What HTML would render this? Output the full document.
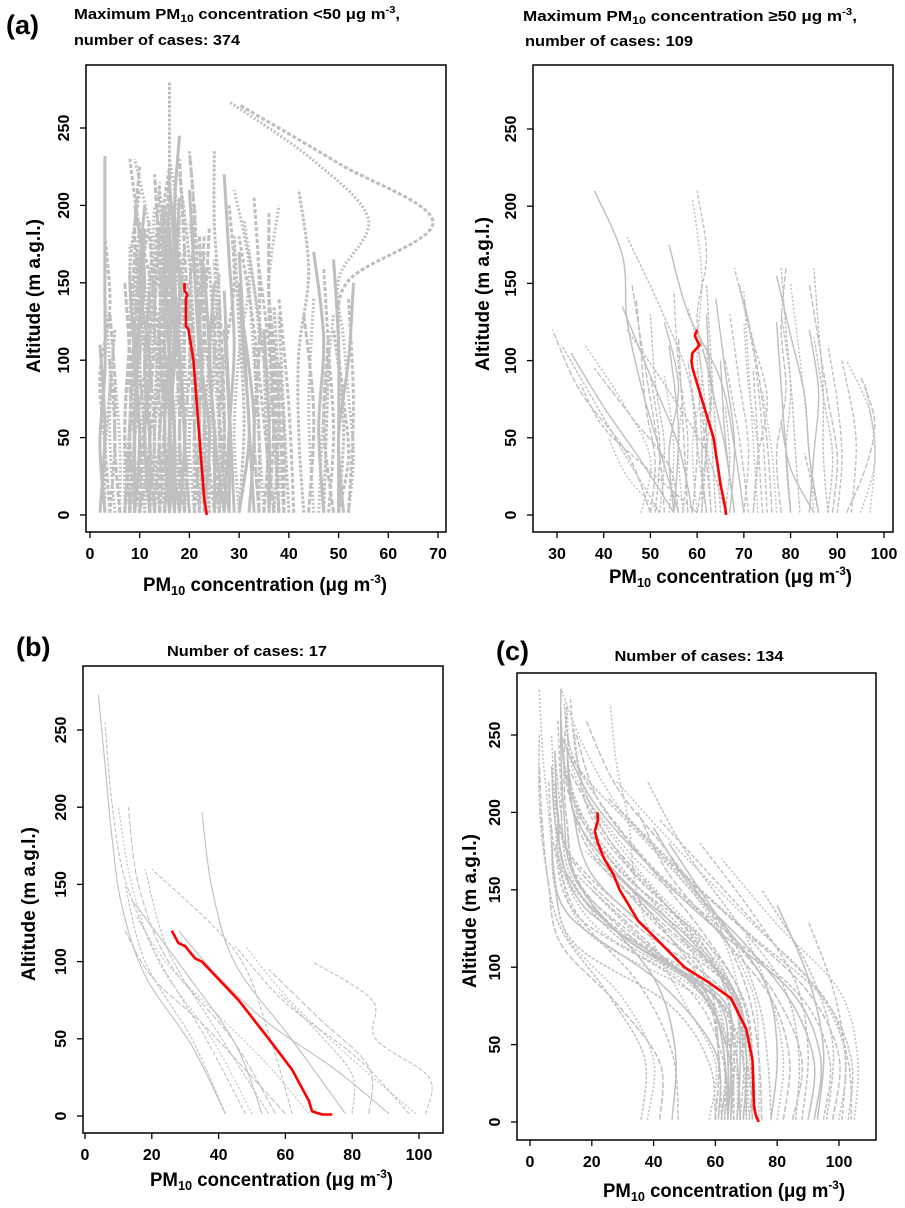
<!DOCTYPE html>
<html><head><meta charset="utf-8">
<style>
html,body{margin:0;padding:0;background:#fff;}
svg{display:block;font-family:"Liberation Sans",sans-serif;}
.t{font-weight:bold;fill:#000;}
</style></head>
<body>
<svg id="fig" width="905" height="1208" viewBox="0 0 905 1208" xmlns="http://www.w3.org/2000/svg">
<rect x="0" y="0" width="905" height="1208" fill="#fff"/>
<text class="t" x="6" y="34" font-size="27">(a)</text>
<text class="t" x="16" y="656" font-size="27">(b)</text>
<text class="t" x="496" y="660" font-size="27">(c)</text>
<text class="t" x="74" y="19" font-size="15" textLength="326" lengthAdjust="spacingAndGlyphs">Maximum PM<tspan font-size="11" dy="3">10</tspan><tspan dy="-3"> concentration &lt;50 μg m</tspan><tspan font-size="10" dy="-6">-3</tspan><tspan dy="6">,</tspan></text>
<text class="t" x="74" y="45" font-size="15" textLength="166" lengthAdjust="spacingAndGlyphs">number of cases: 374</text>
<text class="t" x="523" y="21" font-size="15" textLength="334" lengthAdjust="spacingAndGlyphs">Maximum PM<tspan font-size="11" dy="3">10</tspan><tspan dy="-3"> concentration  ≥50 μg m</tspan><tspan font-size="10" dy="-6">-3</tspan><tspan dy="6">,</tspan></text>
<text class="t" x="525" y="46" font-size="15" textLength="168" lengthAdjust="spacingAndGlyphs">number of cases: 109</text>
<text class="t" x="247" y="656" font-size="15" text-anchor="middle" textLength="160" lengthAdjust="spacingAndGlyphs">Number of cases: 17</text>
<text class="t" x="699" y="661" font-size="15" text-anchor="middle" textLength="169" lengthAdjust="spacingAndGlyphs">Number of cases: 134</text>
<g id="panels"></g>
</svg>
<script>
// profile format: [topAltitude, x at evenly spaced altitudes from 0 to top ...]
const profilesALeft = [
[232,3,2,3,3,3,3],[180,4,3,2,4,3],[140,5,4,4,3],[130,6,5,5,4],[120,3,3,4,5],[110,2,3,2],[100,4,5,4],[90,6,6,5],
[225,8,9,8,10,9,10],[210,7,8,9,8,10],[200,9,10,9,11,9],[190,10,9,11,10,12],[230,11,10,12,13,12,9],
[170,8,7,8,9],[160,12,11,10,11],[150,9,10,9,8],[215,12,13,12,13,14],[180,11,12,11,13],[140,10,11,12],
[120,7,8,9],[200,12,11,12,10,11],[225,10,12,11,13,14,16],[175,7,7,8,8],[165,9,8,9,10],
[190,8,8,9,9,10],[185,9,9,10,11],[170,10,10,9,10],[160,11,11,12,12],[150,7,8,8,7],[155,8,9,10,11],
[145,12,12,11,12],[135,9,9,10],[200,11,11,10,12,13],[180,13,12,13,12],
[280,16,16,15,16,16,16],[245,17,16,17,18,17,18],[235,20,19,20,20,21,20],[230,18,17,16,17,18,16],
[220,14,15,14,15,16],[210,15,14,16,15,14],[200,16,17,16,15,16],[190,13,14,13,14],[180,17,18,17,16],
[170,19,18,19,18],[160,14,13,15,14],[150,18,19,18,17],[230,13,12,14,13,10,8],[210,19,17,18,16,14],
[220,15,16,15,14,13],[200,20,19,18,17,15],[185,18,16,17,16],[165,16,15,16,15],[140,20,19,18],[125,14,15,14],
[195,13,13,14,15],[205,17,17,16,17,18],[175,15,16,17,16],[155,19,20,19,19],
[200,14,14,15,14,15],[190,15,15,14,16],[180,16,16,17,15],[170,17,17,16,17],[160,18,18,19,18],
[185,14,15,16,15],[175,19,19,18,19],[215,16,15,16,17,16],[195,18,18,17,18],
[235,21,20,21,20,21,20],[230,22,21,20,19,18],[220,24,22,21,20,18],[210,23,24,22,21,20],[200,25,23,22,21],
[190,22,21,22,20],[180,26,25,23,22],[170,24,23,24,22],[160,27,25,24,23],[150,21,22,21,20],[140,26,24,25],
[130,28,26,25],[235,25,27,26,26,25,25],[220,27,28,29,28,27],[200,28,26,27,29,28],[210,30,29,30,32,29],
[185,23,22,23,24],[165,26,27,26,25],[145,29,28,27],
[190,21,21,22,21],[175,22,22,23,22],[180,23,23,22,23],[160,24,24,25,24],[150,25,25,24,25],
[170,21,22,22,23],[155,26,26,25,26],[140,27,27,26],[130,22,23,22],[120,28,28,27],
[205,34,33,34,34,33],[200,37,36,37,36,38],[195,36,37,36,36],[180,30,31,30,29],[170,33,32,31,30],
[160,38,37,36,34],[150,35,34,33,32],[140,39,38,36],[130,40,39,38],[120,32,33,31],[180,37,35,33,30],
[190,39,37,34,31],[110,38,37],[100,36,35],[150,30,32,31,30],[140,41,40,38],[170,34,33,34,32],
[125,35,36,34],[135,37,38,37],[120,36,36,35],[110,34,34,33],[130,38,37,36],[100,39,39,38],
[210,43,42,42,44,42],[170,47,46,47,45],[160,48,49,48,47],[140,45,44,45],[130,44,45,43],[120,50,51,49],
[150,51,50,52,53],[140,52,53,52],[130,46,47,49],[115,49,47,48],[100,47,48],[165,50,50,50,49],
[265,50,52,51,50,52,69,50,30],[267,52,53,52,51,50,56,45,28]
];
const meanALeftAlt = [0,10,50,100,120,122,140,142,145,150];
const meanALeftX = [23.5,23,22,20.8,19.8,19.3,19.3,19.6,19.0,19.0];

const profilesARight = [
[210,56,52,48,45,44,38],[210,60,62,63,60,62,60],[205,63,62,60,61,59],[160,78,77,79,78,79],
[160,88,87,87,86,85],[155,86,84,83,80,77],[150,72,73,75,72,69],[150,85,83,80],
[120,50,45,35,29],[110,52,45,38,31],[105,55,48,40,33],[85,60,50,40,35],[50,52,45,41],
[140,50,51,49,48,47],[130,52,53,51,50],[125,55,54,56,53],[145,57,58,56,55],[135,60,59,61,58],
[120,62,61,63,60],[150,65,64,63,62],[140,67,68,66,64],[130,70,71,69,67],[125,72,73,71,70],
[115,58,57,56],[110,64,63,62],[100,68,66,65],[95,74,73,72],[90,54,55,53],[150,53,52,50,48,46],
[180,62,60,58,52,45],[175,70,68,65,58,54],[160,75,74,72,68],[145,73,72,71,70],[140,76,75,73,70],
[130,82,81,80,78],[120,84,85,86,84],[110,90,91,90,88],[100,95,98,97,92],[90,92,96,98,95],
[115,88,89,87,85],[125,80,79,78,77],[100,93,94,91],[85,97,98,96],[150,89,90,88,86,84],
[160,80,79,80,79,78],[60,85,80,78],[40,86,83],[110,48,50,44,36],[95,56,54,46,38],[120,66,62,54,45],
[135,59,56,50,44],[100,71,69,66],[80,77,76,74],[70,63,62,61],[115,61,62,60],[130,68,66,63,62],
[90,51,52,50],[80,57,56,57],[100,59,60,58],[70,66,67,66],[110,55,56,54],[95,61,61,60]
];
const meanARightAlt = [0,5,20,50,80,95,100,105,110,113,116,120];
const meanARightX = [66.2,66,65,63.5,60.5,59,58.8,59,60.5,60,59.5,60];

const profilesB = [
[273,42,32,18,11,8,6,4],[255,48,36,22,12,8,6],[200,50,38,22,14,10],[200,57,44,25,16,13],
[160,55,40,25,18],[197,78,62,45,38,35],[100,102,103,87,86,68],[110,99,80,62,48],
[95,85,85,70,55],[80,80,80,70,58],[120,91,75,55,40,28],[110,97,82,60,45],[130,67,55,40,25,15],
[120,60,48,35,20,12],[150,42,32,18,12],[140,53,45,30,14],[160,62,55,45,20]
];
const meanBAlt = [1,1,3,10,30,50,75,100,102,110,112,120];
const meanBX = [74,71,68,67,62,55,46,35,33,30,28,26];

const profilesC = [
[280,64,64,60,30,14,11,10,10],[260,66,65,58,25,12,10,9],[250,62,63,55,22,10,8,7],
[270,68,67,62,35,16,12,11,12],[240,70,69,60,28,13,10,8],[230,65,64,52,18,9,7],[220,63,62,50,16,8,6],
[200,67,66,55,20,10,9],[210,72,70,63,35,14,8],[190,60,58,45,15,8,7],[180,61,60,42,12,7],
[275,66,65,64,55,35,20,15,13],[265,70,69,67,58,40,25,14,12],[250,73,72,68,55,38,22,15],
[255,68,67,66,50,30,18,14],[240,64,63,58,40,20,14,12],[230,62,61,57,36,18,12],
[280,71,70,68,62,48,30,18,10],[260,75,74,70,60,45,28,18],[270,78,77,74,66,50,32,15,11],
[250,92,94,85,60,38,20,10],[240,95,97,88,65,42,25,12],[220,100,102,92,70,48,28],
[210,98,100,90,68,45,25],[200,103,104,95,72,50,30],[190,90,92,85,70,52,40],[180,88,90,86,72,55],
[170,105,106,100,80,62],[160,85,88,80,65,50],[150,96,98,90,75],[140,93,95,90,80],[130,101,102,98,90],
[120,80,82,78,70],[200,82,84,78,62,45,35],[220,86,87,82,66,50,38],[180,78,80,76,60,45],
[195,104,103,96,78,60,42],
[280,38,40,30,12,8,6,4,3],[230,42,42,28,10,6,4,3],[250,36,37,25,10,5,3,3],[140,46,47,40,20],
[180,48,46,35,15,8],[270,58,60,50,40,34,32,28,26],
[150,60,61,58,40,20],[160,62,63,57,35,15],[170,69,70,66,45,22],[200,71,72,69,55,30,15],
[210,74,74,72,60,35,18],[230,65,66,62,45,25,12],[245,63,64,60,48,30,15,10],[235,67,68,66,52,30,15,12],
[190,66,65,62,38,16,12],[175,70,70,64,40,18],[265,60,61,56,40,22,12,10],[255,72,71,66,48,26,14,12],
[240,64,65,62,30,12,9,8],[220,68,69,64,34,12,8],[200,62,63,58,30,11,9],[260,69,70,65,42,20,12,10]
];
const meanCAlt = [0,5,10,40,60,80,90,100,110,120,130,140,150,160,170,180,188,195,200];
const meanCX = [74,73,72.5,72,70,65,58,50,45,40,35,32,29,27,24,22,21,22,21.8];

const xTicksALeft = [0,10,20,30,40,50,60,70];
const xTicksARight = [30,40,50,60,70,80,90,100];
const xTicksB = [0,20,40,60,80,100];
const xTicksC = [0,20,40,60,80,100];
const yTicks = [0,50,100,150,200,250];

const NS = 'http://www.w3.org/2000/svg';
const root = document.getElementById('panels');
function mk(tag, attrs, parent){const e=document.createElementNS(NS,tag);for(const k in attrs)e.setAttribute(k,attrs[k]);(parent||root).appendChild(e);return e;}
function smoothPath(pts){
  if(pts.length<2)return '';
  let d='M'+pts[0][0].toFixed(1)+','+pts[0][1].toFixed(1);
  for(let i=0;i<pts.length-1;i++){
    const p0=pts[Math.max(0,i-1)],p1=pts[i],p2=pts[i+1],p3=pts[Math.min(pts.length-1,i+2)];
    const c1x=p1[0]+(p2[0]-p0[0])/6,c1y=p1[1]+(p2[1]-p0[1])/6;
    const c2x=p2[0]-(p3[0]-p1[0])/6,c2y=p2[1]-(p3[1]-p1[1])/6;
    d+=' C'+c1x.toFixed(1)+','+c1y.toFixed(1)+' '+c2x.toFixed(1)+','+c2y.toFixed(1)+' '+p2[0].toFixed(1)+','+p2[1].toFixed(1);
  }
  return d;
}
const dashes=['none','4,2','2,2','6,2','3,1.5'];

function panel(cfg){
  const g=mk('g',{});
  
  
  const sx=v=>cfg.px0+(v-cfg.x0)*(cfg.px1-cfg.px0)/(cfg.x1-cfg.x0);
  const sy=v=>cfg.py0+(v)*(cfg.py250-cfg.py0)/250;
  const clipId='clip-'+cfg.name;
  const cp=mk('clipPath',{id:clipId},g);
  mk('rect',{x:cfg.bx0,y:cfg.by0,width:cfg.bx1-cfg.bx0,height:cfg.by1-cfg.by0},cp);
  const lines=mk('g',{'clip-path':'url(#'+clipId+')'},g);
  
  
  cfg.profiles.forEach((p,i)=>{
    const top=p[0],xs=p.slice(1),n=xs.length;
    const pts=xs.map((x,j)=>[sx(x),sy(n>1?top*j/(n-1):0)]);
    pts[0][1]=sy(1.5);
    const path=mk('path',{d:smoothPath(pts),fill:'none',stroke:'#bfbfbf','stroke-width':cfg.sw,'stroke-dasharray':dashes[i%dashes.length]},lines);
    
    
  });
  const mpts=cfg.meanAlt.map((a,j)=>[sx(cfg.meanX[j]),sy(a)]);
  const mean=mk('path',{d:'M'+mpts.map(p=>p[0].toFixed(1)+','+p[1].toFixed(1)).join(' L'),fill:'none',stroke:'#ff0000','stroke-width':2.6,'stroke-linejoin':'round'},lines);
  
  
  const box=mk('rect',{x:cfg.bx0,y:cfg.by0,width:cfg.bx1-cfg.bx0,height:cfg.by1-cfg.by0,fill:'none',stroke:'#000','stroke-width':1.5},g);
  
  
  const xa=mk('g',{},g);
  
  
  cfg.xTicks.forEach(t=>{
    const x=sx(t);
    mk('line',{x1:x,x2:x,y1:cfg.by1,y2:cfg.by1+6,stroke:'#000','stroke-width':1.3},xa);
    const tx=mk('text',{x:x,y:cfg.by1+27,'font-size':16,'text-anchor':'middle',class:'t'},xa);
    tx.textContent=t;
    
    
  });
  const ya=mk('g',{},g);
  
  
  yTicks.forEach(t=>{
    const y=sy(t);
    mk('line',{x1:cfg.bx0-6,x2:cfg.bx0,y1:y,y2:y,stroke:'#000','stroke-width':1.3},ya);
    const tx=mk('text',{x:0,y:0,'font-size':16,'text-anchor':'middle',class:'t',transform:'translate('+(cfg.bx0-17)+','+y+') rotate(-90)'},ya);
    tx.textContent=t;
    
    
  });
  const xt=mk('text',{x:cfg.xlx0,y:cfg.xly,'font-size':19,class:'t',textLength:cfg.xlw,lengthAdjust:'spacingAndGlyphs'},g);
  xt.innerHTML='PM<tspan font-size="13" dy="4">10</tspan><tspan dy="-4"> concentration (μg  m</tspan><tspan font-size="12" dy="-8">-3</tspan><tspan dy="8">)</tspan>';
  
  
  const yt=mk('text',{x:0,y:0,'font-size':19,class:'t','text-anchor':'middle',textLength:154,lengthAdjust:'spacingAndGlyphs',transform:'translate('+(cfg.ylx+7)+','+cfg.yly+') rotate(-90)'},g);
  yt.textContent='Altitude (m a.g.l.)';
  
  
}

panel({name:'panel-a-left',profiles:profilesALeft,meanAlt:meanALeftAlt,meanX:meanALeftX,xTicks:xTicksALeft,
  x0:0,x1:70,px0:90,px1:438,py0:515,py250:128,bx0:86,bx1:446,by0:65,by1:532,sw:3,
  xlx0:143,xlw:244,xly:591,ylx:33,yly:296});
panel({name:'panel-a-right',profiles:profilesARight,meanAlt:meanARightAlt,meanX:meanARightX,xTicks:xTicksARight,
  x0:30,x1:100,px0:557,px1:884,py0:515,py250:129,bx0:533,bx1:893,by0:65,by1:532,sw:1.4,
  xlx0:609,xlw:243,xly:583,ylx:482,yly:294});
panel({name:'panel-b',profiles:profilesB,meanAlt:meanBAlt,meanX:meanBX,xTicks:xTicksB,
  x0:0,x1:100,px0:85,px1:419,py0:1116,py250:730,bx0:83,bx1:443,by0:666,by1:1133,sw:1.1,
  xlx0:150,xlw:243,xly:1186,ylx:28,yly:904});
panel({name:'panel-c',profiles:profilesC,meanAlt:meanCAlt,meanX:meanCX,xTicks:xTicksC,
  x0:0,x1:100,px0:530,px1:839,py0:1122,py250:735,bx0:517,bx1:876,by0:673,by1:1140,sw:1.5,
  xlx0:603,xlw:242,xly:1197,ylx:469,yly:911});
</script>
</body></html>
